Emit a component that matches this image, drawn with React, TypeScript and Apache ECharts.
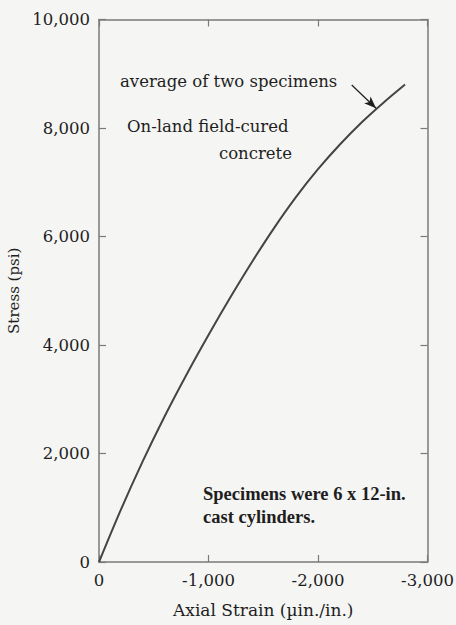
import React, { useEffect, useRef } from "react";
import * as echarts from "echarts";

// Axial strain (µin./in., compressive is negative) and stress (psi)
const strainData = [0, -200, -400, -600, -800, -1000, -1200, -1400, -1600, -1800, -2000, -2200, -2400, -2600, -2795];
const stressData = [0, 965, 1860, 2688, 3458, 4185, 4880, 5540, 6160, 6730, 7240, 7695, 8105, 8470, 8800];

// Arrow from the label to the curve, in data units
const arrowFrom = [-2308, 8793];
const arrowTo = [-2530, 8365];

const strainTicks = { min: -3000, max: 0, interval: 1000 };
const stressTicks = { min: 0, max: 10000, interval: 2000 };

const FONT = "DejaVu Serif";
const BOLD_FONT = "Liberation Serif";
const INK = "#1e1e1e";
const FRAME = "#7a7a7a";

const fmt = (v: number) => (v === 0 ? "0" : v.toLocaleString("en-US"));

export default function App() {
  const ref = useRef<HTMLDivElement>(null);

  useEffect(() => {
    if (!ref.current) return;
    const chart = echarts.init(ref.current, undefined, { renderer: "svg" });
    const points = strainData.map((s, i) => [s, stressData[i]]);

    const baseX = {
      type: "value" as const,
      ...strainTicks,
      inverse: true,
      axisLine: { show: true, onZero: false, lineStyle: { color: FRAME, width: 1.5 } },
      axisTick: { show: true, inside: true, length: 7, lineStyle: { color: FRAME, width: 1.2 } },
      splitLine: { show: false },
    };
    const baseY = {
      type: "value" as const,
      ...stressTicks,
      axisLine: { show: true, onZero: false, lineStyle: { color: FRAME, width: 1.5 } },
      axisTick: { show: true, inside: true, length: 7, lineStyle: { color: FRAME, width: 1.2 } },
      splitLine: { show: false },
    };

    const topNote = (text: string) => ({
      text,
      fill: INK,
      font: `16.5px "${FONT}"`,
    });
    const bottomNote = (text: string) => ({
      text,
      fill: INK,
      font: `bold 18.5px "${BOLD_FONT}"`,
    });

    chart.setOption({
      animation: false,
      backgroundColor: "#f5f5f3",
      grid: { left: 99, right: 28.5, top: 19.5, bottom: 63, containLabel: false, outerBoundsMode: "none" },
      xAxis: [
        {
          ...baseX,
          position: "bottom",
          name: "Axial Strain (µin./in.)",
          nameLocation: "middle",
          nameGap: 39,
          nameTextStyle: { color: INK, fontFamily: FONT, fontSize: 17 },
          axisLabel: { color: INK, fontFamily: FONT, fontSize: 16.5, margin: 10, formatter: fmt },
        },
        { ...baseX, position: "top", axisLabel: { show: false } },
      ],
      yAxis: [
        {
          ...baseY,
          position: "left",
          name: "Stress (psi)",
          nameLocation: "middle",
          nameGap: 72,
          nameTextStyle: { color: INK, fontFamily: FONT, fontSize: 15 },
          axisLabel: { color: INK, fontFamily: FONT, fontSize: 16.5, margin: 9, formatter: fmt },
        },
        { ...baseY, position: "right", axisLabel: { show: false } },
      ],
      series: [
        {
          type: "line",
          data: points,
          smooth: 0.3,
          symbol: "none",
          lineStyle: { color: "#444", width: 2 },
          markLine: {
            silent: true,
            symbol: ["none", "arrow"],
            symbolSize: [7, 12],
            label: { show: false },
            lineStyle: { color: "#1e1e1e", width: 1.2, type: "solid", curveness: -0.2 },
            data: [[{ coord: arrowFrom }, { coord: arrowTo }]],
          },
        },
      ],
      graphic: [
        { type: "text", left: 120, top: 73, style: topNote("average of two specimens") },
        { type: "text", left: 127, top: 118, style: topNote("On-land field-cured") },
        { type: "text", right: 164, top: 145, style: topNote("concrete") },
        { type: "text", left: 203, top: 484, style: bottomNote("Specimens were 6 x 12-in.") },
        { type: "text", left: 203, top: 507, style: bottomNote("cast cylinders.") },
      ],
    });

    return () => chart.dispose();
  }, []);

  return (
    <div
      ref={ref}
      style={{ position: "absolute", left: 0, top: 0, width: 456, height: 625 }}
    />
  );
}
